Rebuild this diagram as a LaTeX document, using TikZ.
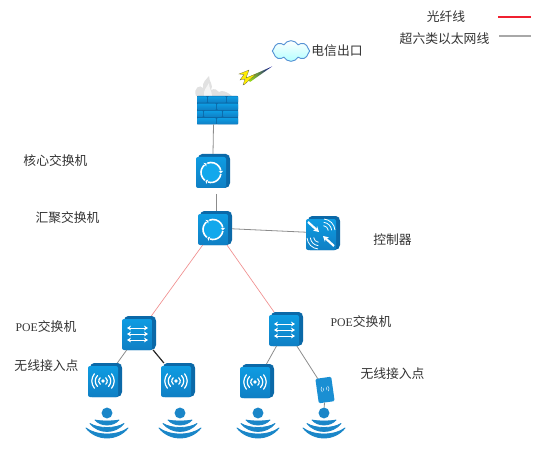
\documentclass[tikz,border=0pt]{standalone}
\usepackage{fontspec}
\setmainfont{Noto Sans CJK SC}
\newfontfamily\latinf[Scale=0.92]{Liberation Serif}
\usetikzlibrary{shapes.symbols,arrows.meta,calc}
\definecolor{bluefront}{HTML}{1A8FD3}
\definecolor{bluelight}{HTML}{0E9CE2}
\definecolor{bluedark}{HTML}{0F7FC4}
\definecolor{blueside}{HTML}{0B69A8}
\definecolor{ringfill}{HTML}{12A8EC}
\definecolor{wifiblue}{HTML}{1A86C8}
\definecolor{wiregray}{HTML}{8C8C8C}
\definecolor{fibre}{HTML}{F09090}
\definecolor{legendred}{HTML}{F02030}
\definecolor{legendgray}{HTML}{A8A8A8}
\definecolor{labelc}{HTML}{333333}
\tikzset{
  lbl/.style={font=\fontsize{9.6pt}{11pt}\selectfont,text=labelc,inner sep=0pt},
  wire/.style={draw=wiregray,line width=0.6pt},
  fibrewire/.style={draw=fibre,line width=0.5pt},
  darkwire/.style={draw=black!85,line width=0.9pt},
  legendredwire/.style={draw=legendred,line width=0.8pt},
  legendgraywire/.style={draw=legendgray,line width=0.8pt},
  devbox/.style={minimum width=25.5pt,minimum height=25.5pt,inner sep=0pt,outer sep=0pt},
  glyph/.style={draw=white,line width=0.9pt,line cap=round},
  wifidot/.style={circle,fill=wifiblue,inner sep=0pt,minimum size=8.2pt,outer sep=0pt},
}
% name, centre x, centre y
\newcommand\mydev[3]{%
  \begin{scope}[shift={(#2,#3)}]
    \fill[blueside,rounded corners=1.5pt] (-15,-14) -- (-13,-17) -- (15,-17) -- (17,-14) -- (17,14) -- (14,17) -- (-15,17) -- cycle;
    \shade[top color=bluelight,bottom color=bluedark,rounded corners=1.5pt] (-17,-14) rectangle (13,17);
    \node[devbox] (#1) at (0,0) {};
  \end{scope}}
\newcommand\ringglyph[2]{%
  \begin{scope}[shift={(#1-2,#2+1.5)}]
    \fill[ringfill] (0,0) circle[radius=7.2pt];
    \foreach \st in {0,120,240}{
      \draw[white,line width=1.2pt] (\st+12:7.5pt) arc[start angle=\st+12,end angle=\st+112,radius=7.5pt];
      \fill[white] (\st+8:9.2pt) -- (\st+8:5.8pt) -- (\st-4:7.5pt) -- cycle;
    }
  \end{scope}}
\newcommand\switchglyph[2]{%
  \begin{scope}[shift={(#1,#2)}]
    \foreach \yy in {-6,0,6}
      \draw[white,line width=0.7pt,{Stealth[length=3pt,width=3.6pt]}-{Stealth[length=3pt,width=3.6pt]}] (-11,\yy) -- (10,\yy);
  \end{scope}}
\newcommand\waveglyph[2]{%
  \begin{scope}[shift={(#1,#2)}]
    \fill[white] (0,0) circle[radius=1.4pt];
    \foreach \rr/\aa in {3.2pt/50,5.8pt/45,8.4pt/40}{
      \draw[glyph] (180-\aa:\rr) arc[start angle=180-\aa,end angle=180+\aa,radius=\rr];
      \draw[glyph] (-\aa:\rr) arc[start angle=-\aa,end angle=\aa,radius=\rr];
    }
  \end{scope}}
\newcommand\ctrlglyph[2]{%
  \begin{scope}[shift={(#1,#2)}]
    \draw[white,line width=1.6pt,-{Stealth[length=4pt,width=4.5pt]}] (-13,-12) -- (-2,-2);
    \draw[white,line width=1.6pt,-{Stealth[length=4pt,width=4.5pt]}] (13,12) -- (2,2);
    \foreach \rr in {4pt,6.5pt,9pt}{
      \draw[white,line width=0.6pt] ($(2,-3)+(5:\rr)$) arc[start angle=5,end angle=85,radius=\rr];
      \draw[white,line width=0.6pt] ($(-2,3)+(185:\rr)$) arc[start angle=185,end angle=265,radius=\rr];
    }
  \end{scope}}
% name, dot x, dot y
\newcommand\wifisym[3]{%
  \node[wifidot] (#1) at (#2,#3) {};
  \begin{scope}[shift={(#2,#3)}]
    \foreach \aw/\ee/\bb in {12/7/12,17/10.5/18.5,21/15/25}{
      \fill[wifiblue,draw=wifiblue,line width=0.6pt,line join=round]
        (-\aw,\ee) .. controls ({-0.5*\aw},{\ee+(\bb-\ee)/0.75}) and ({0.5*\aw},{\ee+(\bb-\ee)/0.75}) .. (\aw,\ee)
        .. controls ({0.5*\aw},{\ee+(\bb-4-\ee)/0.75}) and ({-0.5*\aw},{\ee+(\bb-4-\ee)/0.75}) .. (-\aw,\ee) -- cycle;
    }
  \end{scope}}
\begin{document}
\begin{tikzpicture}[x=0.75pt,y=-0.75pt]
\useasboundingbox (0,0) rectangle (546,456);
% legend lines
\coordinate (redA) at (498,17);
\coordinate (redB) at (531,17);
\coordinate (grayA) at (499,36);
\coordinate (grayB) at (531,36);
\draw[legendredwire] (redA) -- (redB);
\draw[legendgraywire] (grayA) -- (grayB);
% devices
\mydev{core}{213}{171}
\ringglyph{213}{171}
\mydev{agg}{215}{228}
\ringglyph{215}{228}
\mydev{ctrl}{323}{233}
\ctrlglyph{321}{234}
\mydev{poeL}{139}{333}
\switchglyph{138}{334}
\mydev{poeR}{286}{329}
\switchglyph{285}{330}
\mydev{apA}{105}{380}
\waveglyph{103}{381}
\mydev{apB}{178}{380}
\waveglyph{176}{381}
\mydev{apC}{257}{381}
\waveglyph{255}{382}
% phone-shaped access point
\node[rotate=8,fill=bluefront,rounded corners=1pt,minimum width=12pt,minimum height=18.5pt,inner sep=0pt,outer sep=0pt] (phone) at (325,390) {};
\begin{scope}[shift={(325,389)},rotate=8]
  \foreach \rr in {1.6pt,3pt}{
    \draw[white!70!bluefront,line width=0.5pt] (140:\rr) arc[start angle=140,end angle=220,radius=\rr];
    \draw[white!70!bluefront,line width=0.5pt] (-40:\rr) arc[start angle=-40,end angle=40,radius=\rr];
  }
\end{scope}
% wifi symbols
\wifisym{wifiA}{107}{413}
\wifisym{wifiB}{180}{413}
\wifisym{wifiC}{258}{413}
\wifisym{wifiD}{324}{413}
% firewall
\fill[gray!30,opacity=.8] (196,96) .. controls (193,88) and (200,84) .. (203,88) .. controls (202,82) and (206,80) .. (209,76)
  .. controls (209,82) and (214,85) .. (211,90) .. controls (215,88) and (217,90) .. (219,92)
  .. controls (222,90) and (226,91) .. (232,96) -- cycle;
\fill[white!92!gray] (204,96) .. controls (203,90) and (207,87) .. (209,83) .. controls (209,88) and (212,92) .. (212,96) -- cycle;
\node[minimum width=30.75pt,minimum height=21.5pt,inner sep=0pt,outer sep=0pt] (fw) at (217.5,110) {};
\fill[blueside,rounded corners=0.5pt] (197,96) rectangle (238,124.5);
\foreach \yy/\xs in {96/{197,208,227},103.2/{197,217},110.4/{197,204,223},117.6/{197,217}}{
  \foreach \xx [count=\ii] in \xs {
    \pgfmathsetmacro\xe{\yy==96?(\ii==1?207:(\ii==2?226:238)):(\yy==110.4?(\ii==1?203:(\ii==2?222:238)):(\ii==1?216:238))}
    \shade[top color=bluelight,bottom color=bluedark,rounded corners=0.6pt] (\xx,\yy+0.5) rectangle (\xe,\yy+6.6);
  }
}
% cloud
\node[cloud,cloud puffs=8,cloud puff arc=120,aspect=1.8,draw=cyan!55!blue!70!white,line width=0.7pt,top color=white,bottom color=cyan!30!white,minimum width=28pt,minimum height=15.5pt,inner sep=0pt,outer sep=0pt] (cloudnet) at (291,51) {};
% lightning
\shade[left color=yellow!70!green,right color=blue!60!black] (246,78) -- (272,66.5) -- (250,82) -- cycle;
\fill[yellow!95!orange,draw=black!70!yellow,line width=0.2pt] (239,74) -- (249,70) -- (246,78) -- (256,74) -- (245,84) -- (243,85) -- (245,79) -- (240,80) -- (244,74.5) -- cycle;
% connectors
\draw[wire] ([xshift=-3pt]fw.south) -- (core.north);
\draw[wire] ([xshift=2.25pt,yshift=-4.5pt]core.south) -- ([xshift=.75pt]agg.north);
\draw[wire] (agg) -- (ctrl);
\draw[fibrewire] (agg) -- (poeL);
\draw[fibrewire] (agg) -- (poeR);
\draw[wire] (poeL) -- (apA);
\draw[darkwire] (poeL) -- (apB);
\draw[wire] (poeR) -- (apC);
\draw[wire] (poeR) -- (phone);
\draw[wire] (phone) -- (wifiD);
% labels
\node[lbl] (t1) at (337,51) {电信出口};
\node[lbl] (t2) at (55.5,161) {核心交换机};
\node[lbl] (t3) at (67.5,218) {汇聚交换机};
\node[lbl] (t4) at (392.5,240) {控制器};
\node[lbl] (t5) at (46,327) {{\latinf POE}交换机};
\node[lbl] (t6) at (361,322) {{\latinf POE}交换机};
\node[lbl] (t7) at (46.5,366) {无线接入点};
\node[lbl] (t8) at (392.5,374) {无线接入点};
% legend text
\node[lbl] (legA) at (446,17) {光纤线};
\node[lbl] (legB) at (444.5,38.5) {超六类以太网线};
\end{tikzpicture}
\end{document}
